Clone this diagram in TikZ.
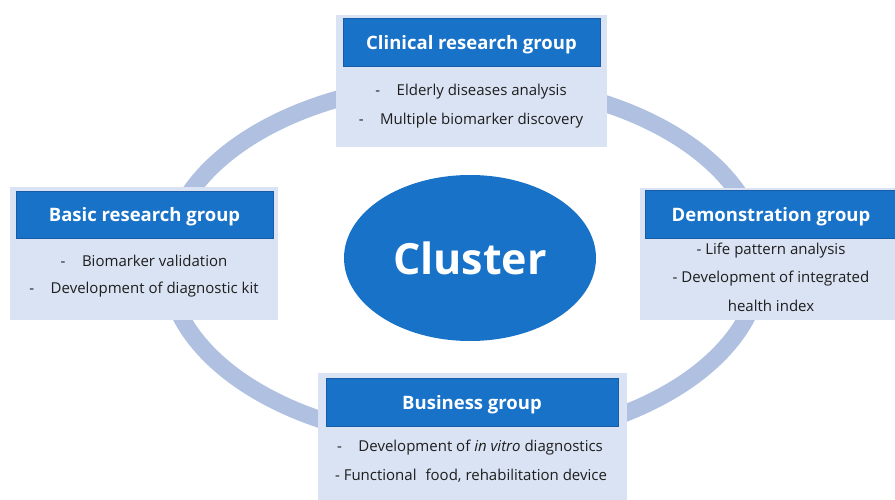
\documentclass[tikz,border=0pt]{standalone}
\usepackage{fontspec}
\setmainfont{Open Sans}
\usetikzlibrary{shapes.geometric}
\definecolor{ringc}{RGB}{176,192,225}
\definecolor{lightbox}{RGB}{218,227,243}
\definecolor{hdr}{RGB}{24,114,200}
\definecolor{hdrline}{RGB}{22,92,168}
\definecolor{itemc}{RGB}{30,30,30}
\begin{document}
\begin{tikzpicture}[x=1pt,y=-1pt,
  panel/.style={fill=lightbox, draw=none, inner sep=0pt},
  header/.style={fill=hdr, draw=hdrline, line width=0.8pt, inner sep=0pt, text depth=0pt, text=white, font=\bfseries\fontsize{18.5}{22}\selectfont},
  item/.style={inner sep=0pt, text=itemc, font=\fontsize{15}{18}\selectfont},
  hub/.style={ellipse, fill=hdr, inner sep=0pt, text=white, font=\bfseries\fontsize{43}{50}\selectfont}]
\fill[white] (0,0) rectangle (895,500);
\useasboundingbox (0,0) rectangle (895,500);
% ring
\draw[ringc, line width=17pt] (464,262) ellipse [x radius=297, y radius=180];
% centre
\node[hub, minimum width=252pt, minimum height=166pt] (cluster) at (470,258) {Cluster};
% clinical
\node[panel, minimum width=271pt, minimum height=132pt] (clinP) at (471.5,81) {};
\node[header, minimum width=257pt, minimum height=48pt] (clinH) at (471.5,42) {Clinical research group};
\node[item] (clin1) at (471,92) {-\hspace{1.1em}Elderly diseases analysis};
\node[item] (clin2) at (471,121) {-\hspace{1.1em}Multiple biomarker discovery};
% basic
\node[panel, minimum width=268pt, minimum height=133pt] (basP) at (144,253.5) {};
\node[header, minimum width=257pt, minimum height=47pt] (basH) at (144.5,214.5) {Basic research group};
\node[item] (bas1) at (144,261) {-\hspace{1.1em}Biomarker validation};
\node[item] (bas2) at (144,290) {-\hspace{1.1em}Development of diagnostic kit};
% demonstration
\node[panel, minimum width=255pt, minimum height=132pt] (demP) at (767.5,254) {};
\node[header, minimum width=252pt, minimum height=48pt] (demH) at (771,214) {Demonstration group};
\node[item] (dem1) at (771,251) {- Life pattern analysis};
\node[item] (dem2) at (771,279) {- Development of integrated};
\node[item] (dem3) at (771,306) {health index};
% business
\node[panel, minimum width=309pt, minimum height=129pt] (busP) at (472.5,437.5) {};
\node[header, minimum width=292pt, minimum height=48pt] (busH) at (472,402) {Business group};
\node[item] (bus1) at (470,448) {-\hspace{1.1em}Development of \textit{in vitro} diagnostics};
\node[item] (bus2) at (471,476) {- Functional\hspace{0.6em}food, rehabilitation device};
\end{tikzpicture}
\end{document}
